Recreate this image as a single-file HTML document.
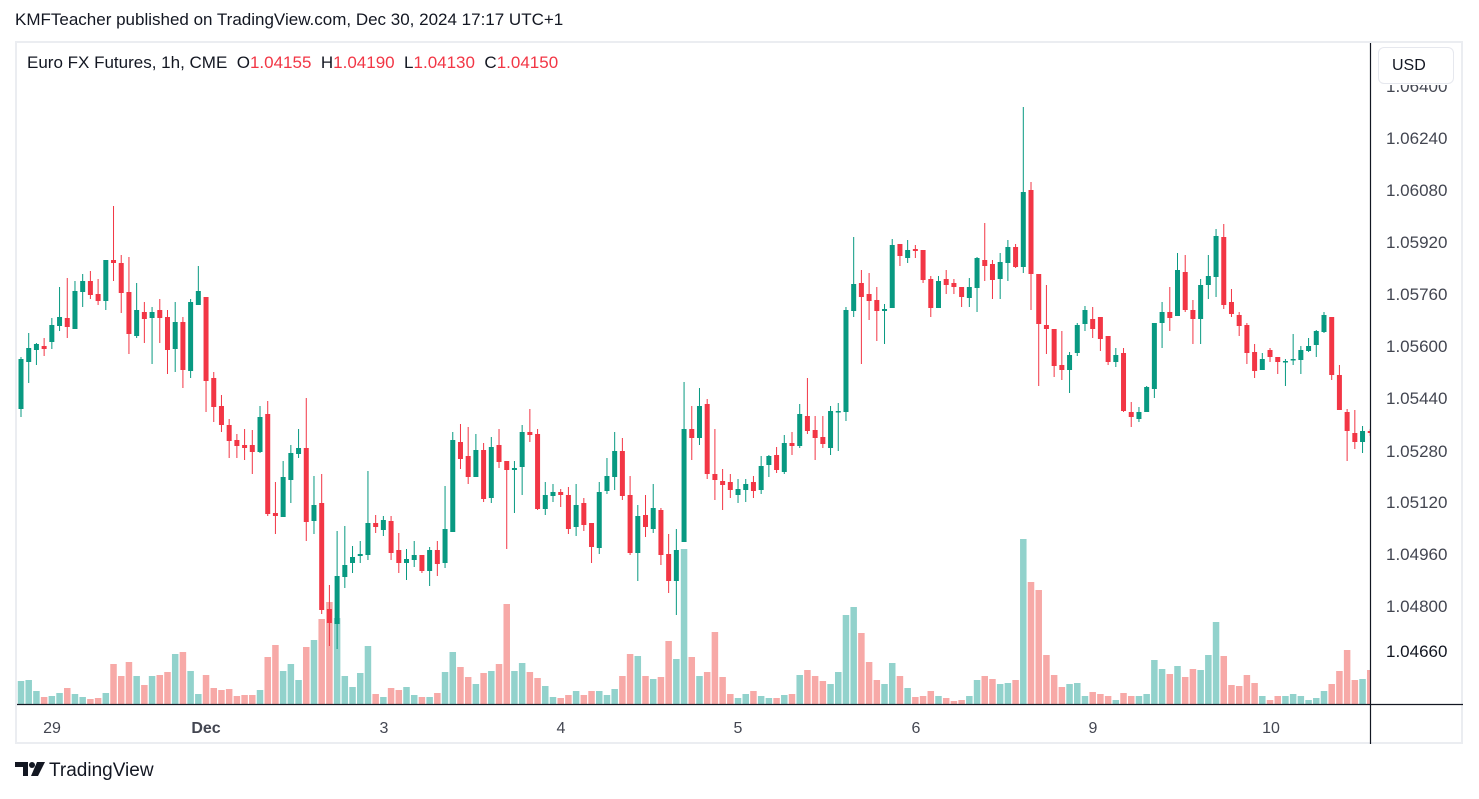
<!DOCTYPE html>
<html><head><meta charset="utf-8">
<style>
html,body{margin:0;padding:0;background:#fff;width:1479px;height:799px;overflow:hidden;font-family:"Liberation Sans",sans-serif;}
#hdr{position:absolute;left:15px;top:10px;font-size:17px;color:#131722;}
#frame{position:absolute;left:15px;top:41px;width:1448px;height:703px;border:2px solid #ebedf1;box-sizing:border-box;}
#leg{position:absolute;left:27px;top:53px;font-size:17px;color:#131722;}
#leg .v{color:#f23645;}
#usd{position:absolute;left:1378px;top:47px;width:76px;height:37px;border:1px solid #e6e8ee;border-radius:6px;box-sizing:border-box;background:#fff;font-size:16px;color:#131722;line-height:36px;padding-left:13px;}
#logo{position:absolute;left:15px;top:761px;font-size:19px;color:#131722;}
svg{position:absolute;left:0;top:0;}
</style></head><body>
<div id="hdr">KMFTeacher published on TradingView.com, Dec 30, 2024 17:17 UTC+1</div>
<div id="frame"></div>
<svg id="s" width="1479" height="799"></svg>
<div id="leg">Euro FX Futures, 1h, CME&nbsp; O<span class="v">1.04155</span>&nbsp; H<span class="v">1.04190</span>&nbsp; L<span class="v">1.04130</span>&nbsp; C<span class="v">1.04150</span></div>
<div id="usd">USD</div>
<div id="logo"><svg width="30" height="16" style="position:relative;top:1px;margin-right:4px"><path d="M0 0H13V14H8V5H0Z" fill="#131722"/><circle cx="17" cy="3" r="3" fill="#131722"/><path d="M22 0H30L23 14H16Z" fill="#131722"/></svg><span style="position:relative;top:-1px">TradingView</span></div>
<script>
var D=[
[359,409,357,417,'g',681],[348,362,333,383,'g',680],[344,350,343,365,'g',691],[346,349,338,356,'r',697],[325,342,318,349,'g',696],
[317,326,287,331,'g',693],[318,327,278,338,'r',688],[291,329,281,329,'g',694],[281,292,274,307,'g',697],[281,295,271,299,'r',699],
[294,301,279,305,'r',698],[260,301,260,310,'g',693],[260,263,206,281,'r',664],[263,293,255,313,'r',676],[292,334,257,354,'r',662],
[310,336,283,338,'g',676],[312,319,302,343,'r',685],[312,318,307,364,'g',676],[310,318,299,343,'r',675],[317,350,310,374,'r',672],
[322,349,302,372,'g',654],[322,370,317,388,'r',652],[302,371,299,378,'g',671],[291,305,266,305,'g',694],[297,381,297,412,'r',675],
[378,407,372,422,'r',688],[406,425,395,432,'r',690],[425,441,419,458,'r',689],[440,446,434,458,'r',696],[445,448,429,460,'r',695],
[445,452,430,474,'r',695],[417,452,406,453,'g',690],[414,514,401,516,'r',657],[513,516,482,534,'r',645],[477,517,461,517,'g',671],
[453,480,445,503,'g',664],[448,454,429,458,'g',680],[448,522,398,541,'r',647],[505,521,476,534,'g',640],[503,610,474,614,'r',619],
[609,623,585,646,'r',602],[576,624,531,649,'g',618],[565,577,526,588,'g',676],[557,563,546,573,'g',687],[554,556,541,563,'g',673],
[523,555,471,560,'g',646],[523,527,515,533,'r',694],[520,530,516,536,'g',697],[521,553,516,560,'r',688],[550,563,533,573,'r',690],
[559,563,549,580,'g',687],[555,560,541,567,'g',695],[555,571,555,573,'r',697],[550,571,547,586,'g',697],[550,564,541,576,'r',693],
[529,563,486,568,'g',672],[440,532,432,532,'g',652],[442,459,424,469,'r',667],[456,477,427,484,'r',677],[450,477,434,477,'g',684],
[450,499,443,502,'r',673],[447,498,437,503,'g',671],[445,462,429,468,'r',664],[461,470,461,549,'r',604],[468,470,461,513,'g',671],
[432,467,425,495,'g',663],[432,435,409,442,'r',672],[434,509,429,510,'r',678],[495,509,482,515,'g',686],[492,496,484,502,'g',697],
[492,495,489,507,'r',698],[495,529,487,534,'r',695],[505,527,484,536,'g',691],[503,525,498,531,'r',695],[523,547,523,563,'r',691],
[492,548,482,554,'g',691],[476,491,458,494,'g',695],[451,477,432,490,'g',689],[451,496,438,500,'r',676],[495,553,476,555,'r',654],
[516,553,505,581,'g',656],[515,527,495,537,'r',676],[508,529,484,533,'g',679],[510,555,508,565,'r',677],[554,581,534,593,'r',641],
[550,581,529,615,'g',659],[429,542,382,542,'g',549],[429,438,406,460,'r',657],[406,438,388,445,'g',676],[404,474,399,479,'r',672],
[474,480,429,500,'r',632],[481,485,469,510,'r',677],[482,490,474,498,'r',694],[489,495,479,503,'g',698],[484,490,479,502,'g',694],
[482,491,476,498,'r',691],[466,490,456,494,'g',696],[456,465,455,477,'g',698],[455,470,447,473,'r',698],[443,472,435,474,'g',695],
[443,446,432,455,'r',694],[414,446,404,448,'g',675],[416,431,378,434,'r',670],[430,438,416,460,'r',676],[437,444,416,448,'r',681],
[411,448,406,455,'g',684],[411,412,403,451,'g',672],[310,412,307,421,'g',615],[284,311,237,317,'g',607],[283,297,270,364,'r',633],
[294,301,273,320,'r',662],[300,311,287,341,'r',680],[309,311,304,344,'g',684],[245,308,239,308,'g',663],[244,256,244,266,'r',676],
[250,258,240,263,'g',688],[249,251,245,258,'r',697],[250,280,250,283,'r',696],[279,308,276,317,'r',691],[281,308,276,308,'g',696],
[279,285,270,294,'r',698],[283,287,279,294,'r',701],[287,297,287,307,'r',700],[287,298,278,307,'g',696],[258,288,257,312,'g',680],
[260,266,223,281,'r',676],[264,280,260,299,'r',679],[262,279,253,299,'g',684],[247,263,240,281,'g',683],[247,267,244,268,'r',680],
[192,267,107,273,'g',539],[190,274,182,310,'r',582],[274,324,274,386,'r',590],[325,329,285,354,'r',655],[329,366,329,377,'r',675],
[365,370,331,380,'r',687],[355,370,352,393,'g',684],[325,353,323,356,'g',683],[310,324,306,331,'g',696],[319,329,307,338,'r',692],
[317,339,317,351,'r',694],[336,362,336,365,'r',696],[355,362,348,367,'g',700],[353,411,348,412,'r',693],[412,417,402,427,'r',696],
[412,419,407,422,'g',696],[387,412,386,412,'g',694],[323,389,323,398,'g',660],[312,323,302,348,'g',669],[312,318,287,331,'r',674],
[270,316,253,316,'g',666],[272,310,255,312,'r',677],[310,319,300,344,'r',669],[285,319,279,344,'g',670],[276,285,255,299,'g',655],
[236,277,229,297,'g',622],[237,305,224,309,'r',656],[302,314,289,317,'r',685],[315,326,312,336,'r',686],[325,353,323,364,'r',675],
[352,371,344,378,'r',683],[359,370,353,370,'g',696],[350,357,348,362,'r',700],[357,362,357,374,'r',696],[361,362,359,386,'g',696],
[359,360,334,365,'g',694],[350,360,346,374,'g',696],[346,351,338,352,'g',700],[331,345,330,357,'g',698],[315,332,312,333,'g',691],
[317,375,317,380,'r',684],[375,410,365,410,'r',671],[412,431,409,461,'r',650],[433,442,410,449,'r',680],[431,442,426,453,'g',679],
[431,433,429,436,'r',670]
];
var F='font-family="Liberation Sans, sans-serif"';
var s='<defs><clipPath id="c"><rect x="17" y="43" width="1353" height="661"/></clipPath><clipPath id="c2"><rect x="1372" y="85" width="90" height="20"/></clipPath></defs>';
s+='<g clip-path="url(#c)">';
s+='<rect x="10.5" y="373" width="5" height="37" fill="#f23645"/><rect x="10" y="676" width="6.5" height="29" fill="#f7a9a7"/>';
for(var i=0;i<D.length;i++){
 var d=D[i],x=21+i*7.71,g=d[4]=='g';
 var vc=g?'#92d2cc':'#f7a9a7';
 s+='<rect x="'+(x-3.25).toFixed(2)+'" y="'+d[5]+'" width="6.5" height="'+(705-d[5])+'" fill="'+vc+'"/>';
}
for(var i=0;i<D.length;i++){
 var d=D[i],x=21+i*7.71,g=d[4]=='g';
 var c=g?'#089981':'#f23645';
 s+='<rect x="'+(x-0.5).toFixed(2)+'" y="'+d[2]+'" width="1" height="'+Math.max(1,d[3]-d[2])+'" fill="'+c+'"/>';
 s+='<rect x="'+(x-2.5).toFixed(2)+'" y="'+d[0]+'" width="5" height="'+Math.max(1.5,d[1]-d[0])+'" fill="'+c+'"/>';
}
s+='</g>';
s+='<line x1="17" y1="704.5" x2="1463" y2="704.5" stroke="#131722" stroke-width="1.2"/>';
s+='<line x1="1370.5" y1="43" x2="1370.5" y2="744" stroke="#131722" stroke-width="1.2"/>';
s+='<text x="1386" y="92" font-size="17" fill="#434651" '+F+' clip-path="url(#c2)">1.06400</text>';
var P=[['1.06240',138],['1.06080',190],['1.05920',242],['1.05760',294],['1.05600',346],['1.05440',398],['1.05280',451],['1.05120',502],['1.04960',554],['1.04800',606]];
P.forEach(function(p){s+='<text x="1386" y="'+(p[1]+6)+'" font-size="17" fill="#434651" '+F+'>'+p[0]+'</text>';});
s+='<text x="1386" y="657" font-size="17" fill="#131722" '+F+'>1.04660</text>';
var T=[['29',52],['Dec',206],['3',384],['4',561],['5',738],['6',916],['9',1093],['10',1271]];
T.forEach(function(t){s+='<text x="'+t[1]+'" y="733" text-anchor="middle" font-size="16" fill="#434651" '+F+(t[0]=='Dec'?' font-weight="bold"':'')+'>'+t[0]+'</text>';});
document.getElementById('s').innerHTML=s;
</script>
</body></html>
